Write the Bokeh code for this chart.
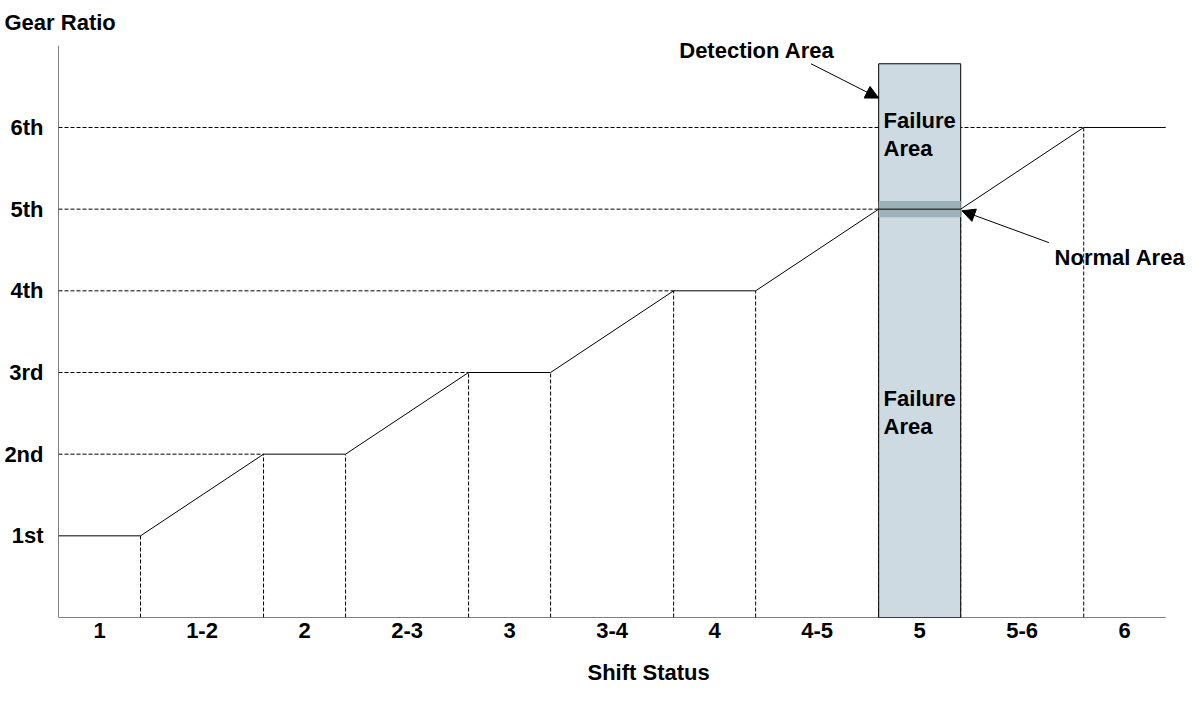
from bokeh.plotting import figure
from bokeh.models import FixedTicker, Label, Arrow, NormalHead, Range1d, Title
from bokeh.embed import file_html
from bokeh.resources import INLINE

# ---- data ----
shift_labels = ["1", "1-2", "2", "2-3", "3", "3-4", "4", "4-5", "5", "5-6", "6"]
segment_widths = [2, 3, 2, 3, 2, 3, 2, 3, 2, 3, 2]   # flat gear = 2, shift transition = 3
gear_labels = ["1st", "2nd", "3rd", "4th", "5th", "6th"]
gear_values = [1, 2, 3, 4, 5, 6]
y_axis_top = 7
detection_segment = "5"
detection_top = 6.78
normal_band_half = 0.1

FONT = "Liberation Sans"
FS = "22px"

# ---- derived geometry ----
bounds = [0]
for w in segment_widths:
    bounds.append(bounds[-1] + w)
centers = [(bounds[i] + bounds[i + 1]) / 2 for i in range(len(segment_widths))]
x_end = bounds[-1]

prof_x, prof_y = [], []
for i, g in enumerate(gear_values):
    prof_x += [bounds[2 * i], bounds[2 * i + 1]]
    prof_y += [g, g]

p = figure(width=1196, height=704, x_range=Range1d(0, 27.75), y_range=Range1d(0, 7.065),
           output_backend="svg", toolbar_location=None, title=None,
           min_border_left=58, min_border_right=0, min_border_top=40, min_border_bottom=87)
p.outline_line_color = None
p.xgrid.visible = False
p.ygrid.visible = False
p.background_fill_color = "white"

DASH = "4 2"
# horizontal dashed guides from axis to start of each flat gear
for i, g in enumerate(gear_values):
    if i == 0:
        continue
    p.line([0, bounds[2 * i]], [g, g], line_color="black", line_width=1, line_dash=DASH)

# vertical dashed guides at segment boundaries
for k in range(1, len(bounds) - 1):
    gy = gear_values[(k - 1) // 2] if k % 2 == 1 else gear_values[k // 2]
    p.line([bounds[k], bounds[k]], [0, gy], line_color="black", line_width=1, line_dash=DASH)

# detection area
di = shift_labels.index(detection_segment)
det_l, det_r = bounds[di], bounds[di + 1]
det_gear = gear_values[di // 2]
p.quad(left=det_l, right=det_r, bottom=0, top=detection_top,
       fill_color="#cddae1", line_color="black", line_width=1)
p.quad(left=det_l, right=det_r, bottom=det_gear - normal_band_half, top=det_gear + normal_band_half,
       fill_color="#9db1b8", line_color=None)

# gear ratio profile
p.line(prof_x, prof_y, line_color="black", line_width=1)

# axis lines (drawn to the chart's own extent)
p.segment(x0=[0, 0], y0=[0, 0], x1=[x_end, 0], y1=[0, y_axis_top], line_color="black", line_width=1)

# axes (tick labels)
xa = p.xaxis[0]
xa.ticker = FixedTicker(ticks=centers)
xa.major_label_overrides = {c: s for c, s in zip(centers, shift_labels)}
ya = p.yaxis[0]
ya.ticker = FixedTicker(ticks=gear_values)
ya.major_label_overrides = {g: s for g, s in zip(gear_values, gear_labels)}
for ax in (xa, ya):
    ax.axis_line_color = None
    ax.major_tick_line_color = None
    ax.minor_tick_line_color = None
    ax.major_tick_out = 0
    ax.major_tick_in = 0
    ax.minor_tick_out = 0
    ax.minor_tick_in = 0
    ax.major_label_text_font = FONT
    ax.major_label_text_font_style = "bold"
    ax.major_label_text_font_size = FS
    ax.major_label_text_color = "black"
xa.major_label_standoff = 5
ya.major_label_standoff = 15

p.add_layout(Title(text="Gear Ratio", align="left", offset=-54, text_font=FONT,
                   text_font_style="bold", text_font_size=FS, text_color="black",
                   standoff=12), "above")
p.add_layout(Title(text="Shift Status", align="left", offset=529, text_font=FONT,
                   text_font_style="bold", text_font_size=FS, text_color="black",
                   standoff=35), "below")

def lab(x, y, text, align="left", baseline="middle"):
    p.add_layout(Label(x=x, y=y, text=text, text_font=FONT, text_font_style="bold",
                       text_font_size=FS, text_color="black", text_align=align,
                       text_baseline=baseline, text_line_height=1.12))

lab(17.03, 6.943, "Detection Area", align="center")
lab(24.29, 4.408, "Normal Area")
lab(det_l + 0.12, 5.908, "Failure\nArea")
lab(det_l + 0.12, 2.516, "Failure\nArea")

head = lambda: NormalHead(size=13, fill_color="black", line_color="black")
p.add_layout(Arrow(end=head(), x_start=18.35, y_start=6.78, x_end=det_l, y_end=6.36,
                   line_color="black", line_width=1))
p.add_layout(Arrow(end=head(), x_start=24.15, y_start=4.59, x_end=det_r + 0.03, y_end=det_gear - 0.02,
                   line_color="black", line_width=1))

open("out.html", "w").write(file_html(p, INLINE))
